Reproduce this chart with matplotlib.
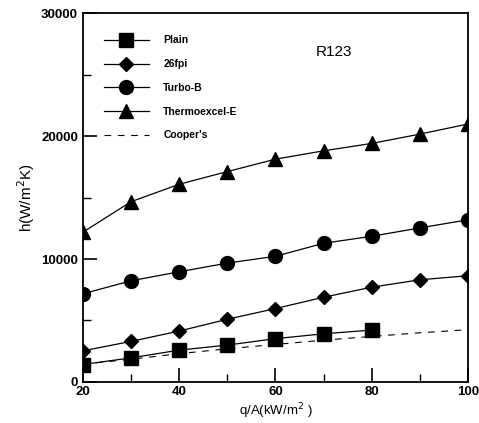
import matplotlib
matplotlib.use("Agg")
import matplotlib.pyplot as plt
from matplotlib.ticker import MultipleLocator

plt.rcParams['font.family'] = ['Liberation Sans', 'DejaVu Sans']

q_full = [20, 30, 40, 50, 60, 70, 80, 90, 100]
q_plain = [20, 30, 40, 50, 60, 70, 80]
h_plain = [1420, 1960, 2590, 3000, 3520, 3920, 4220]
h_26fpi = [2530, 3300, 4140, 5100, 5970, 6890, 7710, 8310, 8640]
h_turbo = [7170, 8230, 8960, 9670, 10220, 11280, 11850, 12530, 13190]
h_thermo = [12180, 14660, 16080, 17110, 18120, 18800, 19400, 20160, 20980]
h_cooper = [1450, 1850, 2300, 2700, 3050, 3400, 3700, 4000, 4250]

labels = ["Plain", "26fpi", "Turbo-B", "Thermoexcel-E", "Cooper's"]

fig = plt.figure(figsize=(4.79, 4.23), dpi=100)
ax = fig.add_axes([0.173, 0.097, 0.804, 0.872])

lw = 0.9
ax.plot(q_plain, h_plain, '-s', color='black', lw=lw, ms=9.5, label=labels[0])
ax.plot(q_full, h_26fpi, '-D', color='black', lw=lw, ms=7, label=labels[1])
ax.plot(q_full, h_turbo, '-o', color='black', lw=lw, ms=10, label=labels[2])
ax.plot(q_full, h_thermo, '-^', color='black', lw=lw, ms=9.5, label=labels[3])
ax.plot(q_full, h_cooper, '--', color='black', lw=0.8, dashes=(6, 6), label=labels[4])

ax.set_xlim(20, 100)
ax.set_ylim(0, 30000)
ax.xaxis.set_major_locator(MultipleLocator(20))
ax.xaxis.set_minor_locator(MultipleLocator(10))
ax.yaxis.set_major_locator(MultipleLocator(10000))
ax.yaxis.set_minor_locator(MultipleLocator(5000))
ax.tick_params(which='major', direction='in', length=10, width=1.2, labelsize=9.5)
ax.tick_params(which='minor', direction='in', length=6, width=1.0)
ax.tick_params(axis='x', pad=3)
for t in ax.get_xticklabels() + ax.get_yticklabels():
    t.set_fontweight('bold')
for s in ax.spines.values():
    s.set_linewidth(1.3)

ax.set_xlabel("q/A(kW/m$^2$ )", fontsize=9.5, labelpad=2)
ax.set_ylabel("h(W/m$^2$K)", fontsize=11, labelpad=3)

ax.text(0.605, 0.895, "R123", transform=ax.transAxes, fontsize=11, ha='left', va='center')

leg = ax.legend(loc='upper left', bbox_to_anchor=(0.03, 0.965), frameon=False,
                handlelength=4.3, handletextpad=1.4, labelspacing=1.32,
                prop={'weight': 'bold', 'size': 7.5})

fig.savefig("out.png", dpi=100)
